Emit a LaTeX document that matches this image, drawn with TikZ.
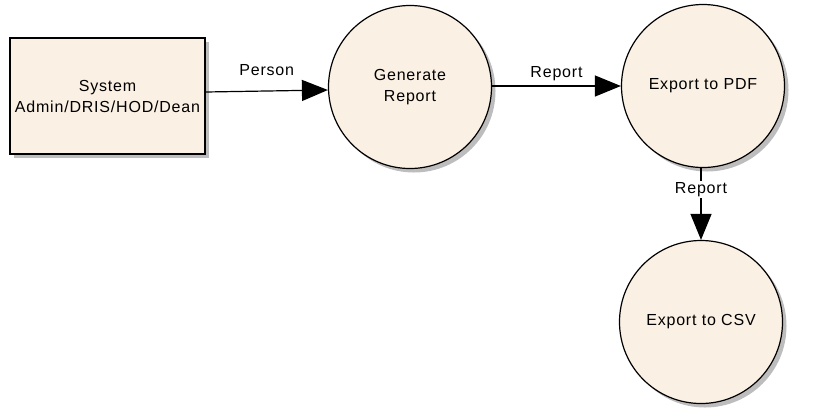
\documentclass[tikz,border=0pt]{standalone}
\usepackage{fontspec}
\setmainfont{Liberation Sans}[LetterSpace=5]
\usetikzlibrary{arrows.meta,shadows}

\definecolor{procfill}{HTML}{FAF0E3}
\definecolor{shadowgray}{HTML}{BDBDBD}

\begin{document}
\begin{tikzpicture}[x=1pt, y=-1pt,
    font=\fontsize{16}{21}\selectfont,
    entity/.style={draw, line width=1.2pt, fill=procfill, minimum width=195pt, minimum height=116pt,
        align=center, inner sep=0pt,
        drop shadow={shadow xshift=4pt, shadow yshift=-4pt, fill=shadowgray, opacity=1}},
    process/.style={draw, line width=1.2pt, circle, fill=procfill, minimum size=163pt, inner sep=0pt,
        align=center,
        drop shadow={shadow xshift=4pt, shadow yshift=-4pt, fill=shadowgray, opacity=1}},
    flow/.style={line width=1.2pt, -{Triangle[length=26pt, width=21pt]}}]
    \useasboundingbox (0,0) rectangle (824,416);
    \node[entity] (user) at (107.5,96) {System\\Admin/DRIS/HOD/Dean};
    \node[process] (generate) at (410,87) {Generate\\Report};
    \node[process] (pdf) at (703,86) {Export to PDF};
    \node[process] (csv) at (701,322) {Export to CSV};
    \draw[flow] (user.east |- 0,92) -- node[above=11pt]{Person} (generate.west |- 0,90);
    \draw[flow] (generate.east |- 0,86) -- node[above=1pt]{Report} (pdf.west);
    \draw[flow] (pdf.south -| 701,0) -- node[pos=0.3, fill=white, inner sep=1pt]{Report} (csv.north);
\end{tikzpicture}
\end{document}
